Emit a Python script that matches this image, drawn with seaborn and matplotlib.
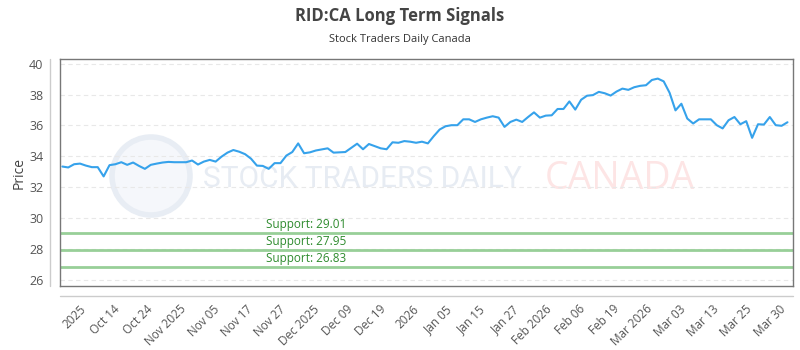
import numpy as np
import pandas as pd
import matplotlib
matplotlib.use("Agg")
import matplotlib.pyplot as plt
import seaborn as sns
from matplotlib.patches import Circle

# daily closes
prices = [
    33.34, 33.28, 33.49, 33.53, 33.40, 33.30, 33.30, 32.70, 33.43, 33.49,
    33.62, 33.45, 33.60, 33.38, 33.19, 33.45, 33.53, 33.60, 33.64, 33.62,
    33.62, 33.62, 33.73, 33.47, 33.66, 33.77, 33.66, 33.98, 34.24, 34.41,
    34.30, 34.14, 33.85, 33.40, 33.38, 33.19, 33.56, 33.56, 34.05, 34.28,
    34.84, 34.20, 34.26, 34.38, 34.45, 34.52, 34.24, 34.26, 34.28, 34.55,
    34.82, 34.46, 34.80, 34.66, 34.52, 34.46, 34.91, 34.88, 34.99, 34.95,
    34.88, 34.95, 34.84, 35.31, 35.74, 35.95, 36.02, 36.02, 36.40, 36.40,
    36.23, 36.40, 36.51, 36.60, 36.51, 35.91, 36.23, 36.38, 36.23, 36.55,
    36.85, 36.51, 36.64, 36.66, 37.07, 37.07, 37.56, 37.03, 37.67, 37.93,
    37.97, 38.18, 38.09, 37.94, 38.20, 38.39, 38.31, 38.48, 38.57, 38.61,
    38.95, 39.04, 38.86, 38.12, 36.98, 37.41, 36.45, 36.13, 36.40, 36.40,
    36.40, 36.02, 35.81, 36.34, 36.55, 36.08, 36.28, 35.20, 36.08, 36.06,
    36.55, 36.02, 35.98, 36.21,
]
tick_labels = ["2025", "Oct 14", "Oct 24", "Nov 2025", "Nov 05", "Nov 17", "Nov 27",
               "Dec 2025", "Dec 09", "Dec 19", "2026", "Jan 05", "Jan 15", "Jan 27",
               "Feb 2026", "Feb 06", "Feb 19", "Mar 2026", "Mar 03", "Mar 13",
               "Mar 25", "Mar 30"]
support_levels = [29.01, 27.95, 26.83]
y_ticks = [26, 28, 30, 32, 34, 36, 38, 40]

sns.set_style("white")
plt.rcParams["font.family"] = ["Open Sans", "DejaVu Sans"]

df = pd.DataFrame({"day": np.arange(len(prices)), "price": prices})
n = len(prices)

fig = plt.figure(figsize=(8, 3.5), dpi=100)
ax = fig.add_axes([0.075, 0.183, 0.916, 0.648])

# watermark (behind everything in the axes)
ax.add_patch(Circle((1.51, 1.74), 0.39, transform=fig.dpi_scale_trans,
                    facecolor="#f5f7fb", edgecolor="#e8edf4", lw=4, zorder=0,
                    clip_on=False))
ax.text(0.195, 0.47, "STOCK TRADERS DAILY", transform=ax.transAxes, fontsize=21.5,
        color="#e7ecf3", family="Roboto", va="center", ha="left", zorder=0)
ax.text(0.662, 0.47, "CANADA", transform=ax.transAxes, fontsize=27,
        color="#fde5e5", va="center", ha="left", zorder=0)

# grid
for yv in y_ticks:
    ax.axhline(yv, color="#e8e8e8", lw=0.8, ls=(0, (4, 3)), zorder=1)

sns.lineplot(data=df, x="day", y="price", ax=ax, color="#36A2EB", lw=1.5, zorder=3)

for lvl in support_levels:
    ax.axhline(lvl, color="#98cf98", lw=2, zorder=2)
    ax.text(0.336, lvl + 0.12, f"Support: {lvl:.2f}", transform=ax.get_yaxis_transform(),
            ha="center", va="bottom", fontsize=8.5, color="#2e8b2e", zorder=4)

ax.set_ylim(25.6, 40.3)
ax.set_xlim(-0.4, n - 1 + 0.9)
ax.set_yticks(y_ticks)
ax.set_yticklabels([str(v) for v in y_ticks])
ax.set_xticks(np.linspace(2.9, n - 1 - 1.5, len(tick_labels)))
ax.set_xticklabels(tick_labels, rotation=45, ha="right", va="top", rotation_mode="anchor")
ax.tick_params(axis="y", length=0, pad=12, labelsize=9, labelcolor="#555555")
ax.tick_params(axis="x", length=0, pad=12, labelsize=8.5, labelcolor="#555555")
ax.set_xlabel("")
ax.set_ylabel("Price", fontsize=10, color="#444444", labelpad=2)

for sp in ax.spines.values():
    sp.set_color("#777777")
    sp.set_linewidth(1)
# offset axis lines
ax.plot([-10 / 733, -10 / 733], [0, 1], transform=ax.transAxes, color="#cccccc",
        lw=1, clip_on=False)
ax.plot([0, 1], [-10 / 227, -10 / 227], transform=ax.transAxes, color="#cccccc",
        lw=1, clip_on=False)

fig.text(0.5, 0.955, "RID:CA Long Term Signals", ha="center", va="center",
         fontsize=12, fontweight="bold", color="#444444")
fig.text(0.5, 0.887, "Stock Traders Daily Canada", ha="center", va="center",
         fontsize=8, color="#333333")

fig.savefig("out.png", dpi=100)
